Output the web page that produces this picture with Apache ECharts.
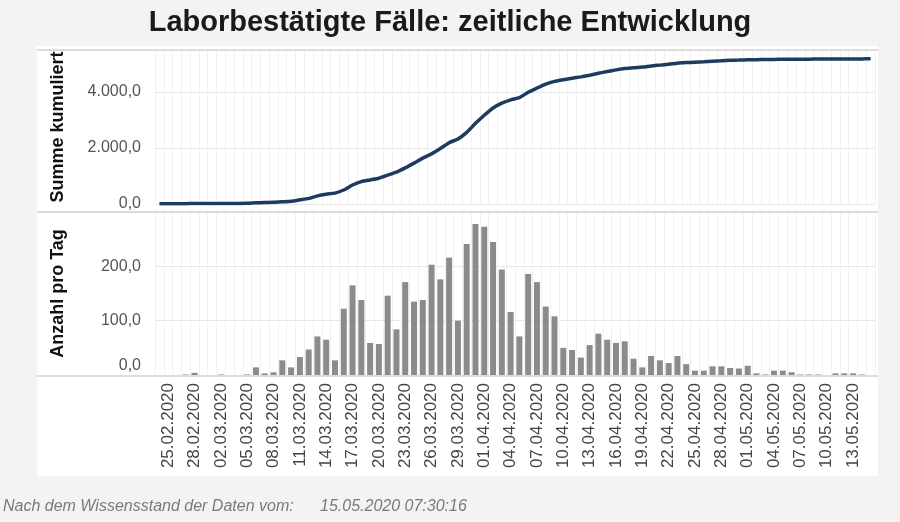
<!DOCTYPE html>
<html lang="de">

<head>
    <meta charset="UTF-8">
    <title>Laborbestätigte Fälle: zeitliche Entwicklung</title>
    <script src="https://cdn.jsdelivr.net/npm/echarts/dist/echarts.min.js"></script>
    <style>
        html, body { margin: 0; padding: 0; background: #f3f3f3; }
    </style>
</head>

<body>
    <div id="main" style="width: 900px; height: 522px;"></div>
    <script type="text/javascript">
        // Tage 24.02.2020 .. 15.05.2020
        var dates = [
            '24.02.2020', '25.02.2020', '26.02.2020', '27.02.2020', '28.02.2020', '29.02.2020',
            '01.03.2020', '02.03.2020', '03.03.2020', '04.03.2020', '05.03.2020', '06.03.2020', '07.03.2020',
            '08.03.2020', '09.03.2020', '10.03.2020', '11.03.2020', '12.03.2020', '13.03.2020', '14.03.2020',
            '15.03.2020', '16.03.2020', '17.03.2020', '18.03.2020', '19.03.2020', '20.03.2020', '21.03.2020',
            '22.03.2020', '23.03.2020', '24.03.2020', '25.03.2020', '26.03.2020', '27.03.2020', '28.03.2020',
            '29.03.2020', '30.03.2020', '31.03.2020', '01.04.2020', '02.04.2020', '03.04.2020', '04.04.2020',
            '05.04.2020', '06.04.2020', '07.04.2020', '08.04.2020', '09.04.2020', '10.04.2020', '11.04.2020',
            '12.04.2020', '13.04.2020', '14.04.2020', '15.04.2020', '16.04.2020', '17.04.2020', '18.04.2020',
            '19.04.2020', '20.04.2020', '21.04.2020', '22.04.2020', '23.04.2020', '24.04.2020', '25.04.2020',
            '26.04.2020', '27.04.2020', '28.04.2020', '29.04.2020', '30.04.2020', '01.05.2020', '02.05.2020',
            '03.05.2020', '04.05.2020', '05.05.2020', '06.05.2020', '07.05.2020', '08.05.2020', '09.05.2020',
            '10.05.2020', '11.05.2020', '12.05.2020', '13.05.2020', '14.05.2020', '15.05.2020'
        ];

        // Summe kumuliert
        var cumulative = [
            10, 10, 10, 12, 15, 15,
            15, 17, 18, 20, 25, 45, 55,
            62, 80, 100, 150, 200, 290, 350,
            390, 500, 680, 800, 860, 920, 1030,
            1140, 1290, 1460, 1640, 1790, 1980, 2190,
            2320, 2560, 2880, 3170, 3430, 3600, 3720,
            3800, 3990, 4140, 4280, 4380, 4440, 4490,
            4540, 4600, 4670, 4730, 4790, 4840, 4870,
            4890, 4930, 4960, 4990, 5030, 5050, 5065,
            5080, 5100, 5115, 5130, 5140, 5150, 5155,
            5160, 5165, 5168, 5170, 5172, 5174, 5176,
            5176, 5178, 5180, 5182, 5183, 5184
        ];

        // Anzahl pro Tag
        var daily = [
            0, 0, 0, 1, 4, 0,
            0, 1, 0, 0, 1, 14, 3,
            5, 27, 14, 33, 47, 71, 65,
            27, 122, 165, 138, 59, 57, 146,
            84, 171, 135, 138, 203, 176, 216,
            100, 241, 278, 273, 245, 194, 116,
            71, 186, 171, 126, 108, 50, 46,
            32, 55, 76, 65, 59, 62, 30,
            14, 35, 27, 22, 35, 20, 8,
            8, 16, 16, 13, 12, 17, 3,
            1, 8, 8, 5, 1, 1, 1,
            0, 3, 3, 3, 1, 0
        ];

        var upperTicks = [0, 2000, 4000];
        var lowerTicks = [0, 100, 200];

        function deNum(v) {
            var s = Math.abs(v).toFixed(1).split('.');
            var intPart = s[0].replace(/\B(?=(\d{3})+(?!\d))/g, '.');
            return (v < 0 ? '-' : '') + intPart + ',' + s[1];
        }

        var myChart = echarts.init(document.getElementById('main'));
        var option = {
            backgroundColor: '#f3f3f3',
            animation: false,
            textStyle: { fontFamily: 'Liberation Sans, Arial, sans-serif' },
            title: [
                {
                    text: 'Laborbestätigte Fälle: zeitliche Entwicklung',
                    left: 'center',
                    top: 3,
                    textStyle: { fontSize: 29, fontWeight: 'bold', color: '#1a1a1a' }
                },
                {
                    text: 'Nach dem Wissensstand der Daten vom:',
                    left: -2,
                    top: 494,
                    textStyle: { fontSize: 16, fontWeight: 'normal', fontStyle: 'italic', color: '#7a7a7a' }
                },
                {
                    text: '15.05.2020 07:30:16',
                    left: 315,
                    top: 494,
                    textStyle: { fontSize: 16, fontWeight: 'normal', fontStyle: 'italic', color: '#7a7a7a' }
                }
            ],
            graphic: [
                {
                    type: 'rect', z: -10, silent: true,
                    shape: { x: 37, y: 46, width: 841, height: 430 },
                    style: { fill: '#ffffff' }
                },
                {
                    type: 'line', z: 1, silent: true,
                    shape: { x1: 37, y1: 50, x2: 878, y2: 50 },
                    style: { stroke: '#dcdcdc', lineWidth: 2 }
                },
                {
                    type: 'line', z: 1, silent: true,
                    shape: { x1: 37, y1: 212, x2: 878, y2: 212 },
                    style: { stroke: '#dcdcdc', lineWidth: 2 }
                },
                {
                    type: 'line', z: 1, silent: true,
                    shape: { x1: 37, y1: 376, x2: 878, y2: 376 },
                    style: { stroke: '#dcdcdc', lineWidth: 2 }
                }
            ],
            grid: [
                { left: 155, right: 25, top: 50, height: 154 },
                { left: 155, right: 25, top: 212, height: 163 }
            ],
            xAxis: [
                {
                    type: 'category', gridIndex: 0, data: dates, boundaryGap: true,
                    axisLine: { show: false }, axisTick: { show: false }, axisLabel: { show: false },
                    splitLine: { show: true, interval: 0, lineStyle: { color: '#f1f1f1', width: 1 } }
                },
                {
                    type: 'category', gridIndex: 1, data: dates, boundaryGap: true,
                    axisLine: { show: false }, axisTick: { show: false },
                    splitLine: { show: true, interval: 0, lineStyle: { color: '#f1f1f1', width: 1 } },
                    axisLabel: {
                        rotate: 90,
                        margin: 8,
                        fontSize: 17,
                        color: '#444',
                        interval: function (index) { return index % 3 === 1; }
                    }
                }
            ],
            yAxis: [
                {
                    type: 'value', gridIndex: 0, min: 0, max: 5500, interval: 2000,
                    name: 'Summe kumuliert', nameLocation: 'middle', nameRotate: 90, nameGap: 88,
                    nameTextStyle: { fontSize: 18, fontWeight: 'bold', color: '#111' },
                    axisLine: { show: false }, axisTick: { show: false },
                    axisLabel: {
                        fontSize: 16, color: '#555', margin: 14, showMaxLabel: false,
                        formatter: function (v) { return upperTicks.indexOf(v) >= 0 ? deNum(v) : ''; }
                    },
                    splitLine: { lineStyle: { color: '#e6e6e6', width: 1 } }
                },
                {
                    type: 'value', gridIndex: 1, min: 0, max: 300, interval: 100,
                    name: 'Anzahl pro Tag', nameLocation: 'middle', nameRotate: 90, nameGap: 88,
                    nameTextStyle: { fontSize: 18, fontWeight: 'bold', color: '#111' },
                    axisLine: { show: false }, axisTick: { show: false },
                    axisLabel: {
                        fontSize: 16, color: '#555', margin: 14, showMaxLabel: false,
                        formatter: function (v) {
                            if (lowerTicks.indexOf(v) < 0) return '';
                            return v === 0 ? '{lo|' + deNum(v) + '}' : deNum(v);
                        },
                        rich: { lo: { fontSize: 16, color: '#555', padding: [0, 0, 18, 0] } }
                    },
                    splitLine: { lineStyle: { color: '#e6e6e6', width: 1 } }
                }
            ],
            series: [
                {
                    name: 'Summe kumuliert',
                    type: 'line',
                    xAxisIndex: 0, yAxisIndex: 0,
                    data: cumulative,
                    symbol: 'none',
                    smooth: 0.2,
                    lineStyle: { color: '#1d3b60', width: 3.5 },
                    z: 5
                },
                {
                    name: 'Anzahl pro Tag',
                    type: 'bar',
                    xAxisIndex: 1, yAxisIndex: 1,
                    data: daily,
                    barWidth: '68%',
                    itemStyle: { color: '#8b8b8b' },
                    z: 5
                }
            ]
        };

        myChart.setOption(option);
    </script>
</body>

</html>
